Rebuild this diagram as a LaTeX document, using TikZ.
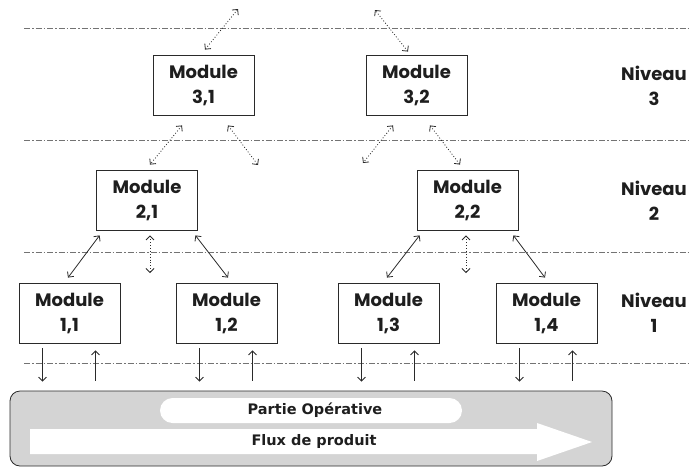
\documentclass[tikz,border=0pt]{standalone}
\usepackage{fontspec}
\usepackage{xcolor}
\usetikzlibrary{arrows.meta,calc}
\newfontfamily\geofont{Poppins}
\newfontfamily\dejafont{DejaVu Sans}
\definecolor{trait}{HTML}{2A2A2A}
\definecolor{fond}{HTML}{D4D4D4}
\definecolor{encre}{HTML}{1E1E1E}

\tikzset{
  module/.style={draw=trait, line width=0.8pt, fill=white, minimum width=101pt, minimum height=60pt,
    inner sep=0pt, align=center, text=encre, font=\geofont\bfseries\fontsize{18}{25}\selectfont},
  niveau/.style={align=center, text=encre, font=\geofont\bfseries\fontsize{18}{25}\selectfont},
  bandeau/.style={text=encre, font=\dejafont\bfseries\fontsize{14.5}{16}\selectfont},
  pointe/.tip={Straight Barb[length=4pt,width=8pt]},
  lien/.style={-pointe, draw=trait, line width=0.8pt},
  liendouble/.style={pointe-pointe, draw=trait, line width=0.8pt},
  lienpointille/.style={liendouble, dash pattern=on 0.9pt off 2pt},
  separation/.style={draw=black!55, line width=0.7pt, dash pattern=on 6pt off 2pt on 1.5pt off 2pt},
}

\begin{document}
\begin{tikzpicture}[x=1pt,y=-1pt]
  \useasboundingbox (0,0) rectangle (691,467);

  % lignes de separation des niveaux
  \foreach \y in {28,140,252,363}
    \draw[separation] (24,\y) -- (691,\y);

  % modules
  \node[module] (m31) at (203.5,85) {Module\\3,1};
  \node[module] (m32) at (416.5,85) {Module\\3,2};
  \node[module] (m21) at (147,200.5) {Module\\2,1};
  \node[module] (m22) at (467.5,200.5) {Module\\2,2};
  \node[module] (m11) at (69.5,313) {Module\\1,1};
  \node[module] (m12) at (226.5,313) {Module\\1,2};
  \node[module] (m13) at (388.5,313) {Module\\1,3};
  \node[module] (m14) at (546.5,313) {Module\\1,4};

  % niveaux
  \node[niveau] (n3) at (654,86) {Niveau\\3};
  \node[niveau] (n2) at (654,200.5) {Niveau\\2};
  \node[niveau] (n1) at (654,313) {Niveau\\1};

  % partie operative
  \node[draw=trait, line width=0.8pt, fill=fond, rounded corners=10pt,
        minimum width=602pt, minimum height=75pt] (po) at (311,428.5) {};
  \node[fill=white, rounded corners=12.5pt, minimum width=302pt, minimum height=25pt,
        inner sep=0pt, bandeau] (op) at (311,410.5) {\hspace{8pt}Partie Opérative};
  \fill[white] (30,429) -- (537,429) -- (537,423) -- (592,442) -- (537,461) -- (537,454) -- (30,454) -- cycle;
  \node[bandeau] (flux) at (314,441.5) {Flux de produit};

  % extremites libres
  \coordinate (h31) at (238,9);
  \coordinate (h32) at (375,10);
  \coordinate (d31) at (258,165);
  \coordinate (g32) at (363,163);
  \coordinate (b21) at (150,273);
  \coordinate (b22) at (466,273);

  % liens entre niveaux
  \draw[lienpointille] ($(m31.north)+(1.5,-5)$) -- (h31);
  \draw[lienpointille] ($(m32.north)+(-8.5,-3)$) -- (h32);
  \draw[lienpointille] ($(m31.south)+(-21.5,10)$) -- ($(m21.north)+(3,-5.5)$);
  \draw[lienpointille] ($(m31.south)+(24.5,10)$) -- (d31);
  \draw[lienpointille] ($(m32.south)+(-23.5,10)$) -- (g32);
  \draw[lienpointille] ($(m32.south)+(13.5,10)$) -- ($(m22.north)+(-7.5,-5.5)$);

  \draw[liendouble] ($(m21.south west)+(3.5,4.5)$) -- ($(m11.north)+(-1.5,-5)$);
  \draw[lienpointille] ($(m21.south)+(3,4.5)$) -- (b21);
  \draw[liendouble] ($(m21.south east)+(-2.5,4.5)$) -- ($(m12.north)+(1.5,-5)$);
  \draw[liendouble] ($(m22.south west)+(3,4.5)$) -- ($(m13.north)+(-1.5,-5)$);
  \draw[lienpointille] ($(m22.south)+(-1.5,4.5)$) -- (b22);
  \draw[liendouble] ($(m22.south east)+(-5,4.5)$) -- ($(m14.north)+(-1.5,-5)$);

  % commandes et comptes rendus
  \foreach \m in {m11,m12,m13,m14} {
    \draw[lien, shorten >=9pt] ([xshift=-27pt,yshift=-5pt]\m.south) -- ([xshift=-27pt]\m.south |- po.north);
    \draw[lien, shorten <=10pt] ([xshift=26pt]\m.south |- po.north) -- ([xshift=26pt,yshift=-7pt]\m.south);
  }
\end{tikzpicture}
\end{document}
